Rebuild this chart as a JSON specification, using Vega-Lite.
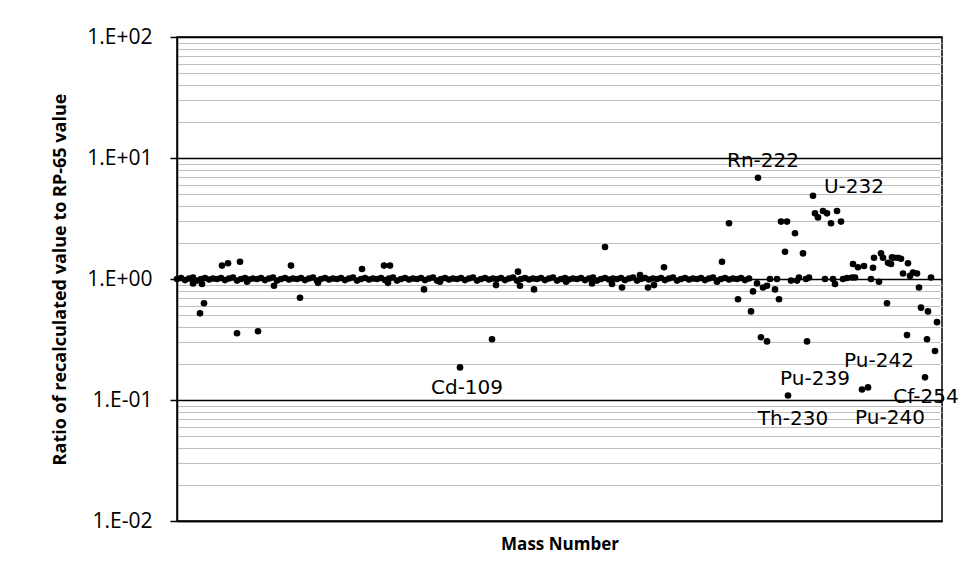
{
  "$schema": "https://vega.github.io/schema/vega-lite/v6.json",
  "width": 765,
  "height": 484,
  "autosize": {"type": "none"},
  "padding": {"left": 177, "top": 37, "right": 24, "bottom": 67},
  "background": "white",
  "config": {"view": {"stroke": "black", "strokeWidth": 1.5}, "font": "Open Sans"},
  "datasets": {
    "pts": [
      {"x":0,"y":1.0},{"x":4,"y":1.02},{"x":8,"y":0.98},{"x":12,"y":1.01},{"x":16,"y":1.03},{"x":20,"y":0.97},{"x":24,"y":1.0},{"x":28,"y":1.02},{"x":32,"y":0.99},{"x":36,"y":1.01},
      {"x":40,"y":1.0},{"x":44,"y":1.02},{"x":48,"y":0.98},{"x":52,"y":1.01},{"x":56,"y":1.03},{"x":60,"y":0.97},{"x":64,"y":1.0},{"x":68,"y":1.02},{"x":72,"y":0.99},{"x":76,"y":1.01},
      {"x":80,"y":1.0},{"x":84,"y":1.02},{"x":88,"y":0.98},{"x":92,"y":1.01},{"x":96,"y":1.03},{"x":100,"y":0.97},{"x":104,"y":1.0},{"x":108,"y":1.02},{"x":112,"y":0.99},{"x":116,"y":1.01},
      {"x":120,"y":1.0},{"x":124,"y":1.02},{"x":128,"y":0.98},{"x":132,"y":1.01},{"x":136,"y":1.03},{"x":140,"y":0.97},{"x":144,"y":1.0},{"x":148,"y":1.02},{"x":152,"y":0.99},{"x":156,"y":1.01},
      {"x":160,"y":1.0},{"x":164,"y":1.02},{"x":168,"y":0.98},{"x":172,"y":1.01},{"x":176,"y":1.03},{"x":180,"y":0.97},{"x":184,"y":1.0},{"x":188,"y":1.02},{"x":192,"y":0.99},{"x":196,"y":1.01},
      {"x":200,"y":1.0},{"x":204,"y":1.02},{"x":208,"y":0.98},{"x":212,"y":1.01},{"x":216,"y":1.03},{"x":220,"y":0.97},{"x":224,"y":1.0},{"x":228,"y":1.02},{"x":232,"y":0.99},{"x":236,"y":1.01},
      {"x":240,"y":1.0},{"x":244,"y":1.02},{"x":248,"y":0.98},{"x":252,"y":1.01},{"x":256,"y":1.03},{"x":260,"y":0.97},{"x":264,"y":1.0},{"x":268,"y":1.02},{"x":272,"y":0.99},{"x":276,"y":1.01},
      {"x":280,"y":1.0},{"x":284,"y":1.02},{"x":288,"y":0.98},{"x":292,"y":1.01},{"x":296,"y":1.03},{"x":300,"y":0.97},{"x":304,"y":1.0},{"x":308,"y":1.02},{"x":312,"y":0.99},{"x":316,"y":1.01},
      {"x":320,"y":1.0},{"x":324,"y":1.02},{"x":328,"y":0.98},{"x":332,"y":1.01},{"x":336,"y":1.03},{"x":340,"y":0.97},{"x":344,"y":1.0},{"x":348,"y":1.02},{"x":352,"y":0.99},{"x":356,"y":1.01},
      {"x":360,"y":1.0},{"x":364,"y":1.02},{"x":368,"y":0.98},{"x":372,"y":1.01},{"x":376,"y":1.03},{"x":380,"y":0.97},{"x":384,"y":1.0},{"x":388,"y":1.02},{"x":392,"y":0.99},{"x":396,"y":1.01},
      {"x":400,"y":1.0},{"x":404,"y":1.02},{"x":408,"y":0.98},{"x":412,"y":1.01},{"x":416,"y":1.03},{"x":420,"y":0.97},{"x":424,"y":1.0},{"x":428,"y":1.02},{"x":432,"y":0.99},{"x":436,"y":1.01},
      {"x":440,"y":1.0},{"x":444,"y":1.02},{"x":448,"y":0.98},{"x":452,"y":1.01},{"x":456,"y":1.03},{"x":460,"y":0.97},{"x":464,"y":1.0},{"x":468,"y":1.02},{"x":472,"y":0.99},{"x":476,"y":1.01},
      {"x":480,"y":1.0},{"x":484,"y":1.02},{"x":488,"y":0.98},{"x":492,"y":1.01},{"x":496,"y":1.03},{"x":500,"y":0.97},{"x":504,"y":1.0},{"x":508,"y":1.02},{"x":512,"y":0.99},{"x":516,"y":1.01},
      {"x":520,"y":1.0},{"x":524,"y":1.02},{"x":528,"y":0.98},{"x":532,"y":1.01},{"x":536,"y":1.03},{"x":540,"y":0.97},{"x":544,"y":1.0},{"x":548,"y":1.02},{"x":552,"y":0.99},{"x":556,"y":1.01},
      {"x":560,"y":1.0},{"x":564,"y":1.02},{"x":568,"y":0.98},{"x":572,"y":1.01},
      {"x":16,"y":0.92},{"x":25,"y":0.91},{"x":23,"y":0.52},{"x":27,"y":0.63},{"x":45,"y":1.29},{"x":51,"y":1.35},{"x":63,"y":1.39},{"x":60,"y":0.356},{"x":81,"y":0.37},{"x":70,"y":0.95},
      {"x":97,"y":0.88},{"x":114,"y":1.29},{"x":123,"y":0.70},{"x":141,"y":0.93},{"x":185,"y":1.21},{"x":207,"y":1.29},{"x":213,"y":1.29},{"x":211,"y":0.93},{"x":247,"y":0.82},{"x":263,"y":0.95},
      {"x":283,"y":0.186},{"x":315,"y":0.318},{"x":319,"y":0.89},{"x":341,"y":1.15},{"x":343,"y":0.88},{"x":357,"y":0.82},{"x":389,"y":0.95},{"x":415,"y":0.92},{"x":428,"y":1.84},{"x":435,"y":0.91},
      {"x":445,"y":0.85},{"x":463,"y":1.08},{"x":471,"y":0.85},{"x":477,"y":0.89},{"x":487,"y":1.25},{"x":545,"y":1.39},{"x":552,"y":2.89},{"x":581,"y":6.87},{"x":540,"y":0.95},
      {"x":580,"y":0.92},{"x":586,"y":0.85},{"x":590,"y":0.88},{"x":593,"y":1.0},{"x":598,"y":0.82},{"x":600,"y":1.0},{"x":561,"y":0.68},{"x":576,"y":0.79},{"x":574,"y":0.54},{"x":602,"y":0.68},
      {"x":584,"y":0.33},{"x":590,"y":0.305},{"x":630,"y":0.305},{"x":611,"y":0.109},
      {"x":604,"y":2.98},{"x":610,"y":2.98},{"x":618,"y":2.39},{"x":608,"y":1.68},{"x":626,"y":1.63},
      {"x":636,"y":4.88},{"x":638,"y":3.49},{"x":641,"y":3.23},{"x":646,"y":3.65},{"x":650,"y":3.49},{"x":654,"y":2.89},{"x":660,"y":3.65},{"x":664,"y":2.98},
      {"x":614,"y":0.97},{"x":620,"y":0.97},{"x":622,"y":1.03},{"x":629,"y":1.0},{"x":632,"y":1.03},
      {"x":648,"y":1.0},{"x":656,"y":1.0},{"x":658,"y":0.91},{"x":666,"y":1.0},{"x":670,"y":1.02},{"x":675,"y":1.03},{"x":678,"y":1.03},
      {"x":676,"y":1.33},{"x":681,"y":1.25},{"x":687,"y":1.28},{"x":696,"y":1.24},{"x":697,"y":1.5},{"x":704,"y":1.63},{"x":706,"y":1.5},{"x":711,"y":1.36},{"x":715,"y":1.51},{"x":714,"y":1.33},
      {"x":717,"y":1.5},{"x":721,"y":1.5},{"x":724,"y":1.47},{"x":731,"y":1.35},{"x":726,"y":1.11},{"x":733,"y":1.06},{"x":736,"y":1.13},{"x":740,"y":1.11},{"x":754,"y":1.03},
      {"x":694,"y":1.0},{"x":702,"y":0.95},{"x":710,"y":0.63},{"x":742,"y":0.85},{"x":744,"y":0.58},{"x":751,"y":0.54},{"x":760,"y":0.44},
      {"x":730,"y":0.344},{"x":750,"y":0.318},{"x":758,"y":0.254},{"x":748,"y":0.154},{"x":685,"y":0.122},{"x":691,"y":0.127}
    ],
    "labels": [
      {"x":290,"y":0.126,"label":"Cd-109"},
      {"x":586,"y":9.44,"label":"Rn-222"},
      {"x":677,"y":5.75,"label":"U-232"},
      {"x":638,"y":0.149,"label":"Pu-239"},
      {"x":616,"y":0.0697,"label":"Th-230"},
      {"x":702,"y":0.21,"label":"Pu-242"},
      {"x":713,"y":0.071,"label":"Pu-240"},
      {"x":749,"y":0.106,"label":"Cf-254"}
    ]
  },
  "layer": [
    {
      "data": {"name": "pts"},
      "mark": {"type": "circle", "size": 44, "color": "black", "opacity": 1},
      "encoding": {
        "x": {
          "field": "x", "type": "quantitative",
          "scale": {"domain": [0, 765], "nice": false, "zero": false},
          "axis": {
            "title": "Mass Number", "labels": false, "ticks": false, "grid": false,
            "domain": true, "domainColor": "black", "domainWidth": 1.5,
            "titleFont": "Open Sans", "titleFontWeight": "bold", "titleFontSize": 17,
            "titleColor": "black", "titlePadding": 15
          }
        },
        "y": {
          "field": "y", "type": "quantitative",
          "scale": {"type": "log", "domain": [0.01, 100], "nice": false},
          "axis": {
            "title": "Ratio of recalculated value to RP-65 value",
            "titleFont": "Open Sans", "titleFontWeight": "bold", "titleFontSize": 18,
            "titleColor": "black", "titlePadding": 17,
            "values": [0.01,0.02,0.03,0.04,0.05,0.06,0.07,0.08,0.09,0.1,0.2,0.3,0.4,0.5,0.6,0.7,0.8,0.9,1,2,3,4,5,6,7,8,9,10,20,30,40,50,60,70,80,90,100],
            "labelExpr": "abs(log(datum.value)/LN10 - round(log(datum.value)/LN10)) < 0.001 ? (datum.value >= 1 ? '1.E+0' + round(log(datum.value)/LN10) : '1.E-0' + round(-log(datum.value)/LN10)) : ''",
            "labelOverlap": false,
            "labelFont": "Open Sans", "labelFontSize": 21, "labelColor": "black", "labelPadding": 18,
            "grid": true,
            "gridColor": {"condition": {"test": "abs(log(datum.value)/LN10 - round(log(datum.value)/LN10)) < 0.001", "value": "black"}, "value": "#BFBFBF"},
            "gridWidth": {"condition": {"test": "abs(log(datum.value)/LN10 - round(log(datum.value)/LN10)) < 0.001", "value": 1.5}, "value": 1.2},
            "gridOpacity": 1,
            "ticks": true, "tickSize": 7, "tickWidth": 1.5,
            "tickColor": {"condition": {"test": "abs(log(datum.value)/LN10 - round(log(datum.value)/LN10)) < 0.001", "value": "black"}, "value": "transparent"},
            "domain": true, "domainColor": "black", "domainWidth": 1.5
          }
        }
      }
    },
    {
      "data": {"name": "labels"},
      "mark": {"type": "text", "font": "DejaVu Sans", "fontSize": 20, "color": "black", "align": "center", "baseline": "middle"},
      "encoding": {
        "x": {"field": "x", "type": "quantitative"},
        "y": {"field": "y", "type": "quantitative"},
        "text": {"field": "label"}
      }
    }
  ]
}
